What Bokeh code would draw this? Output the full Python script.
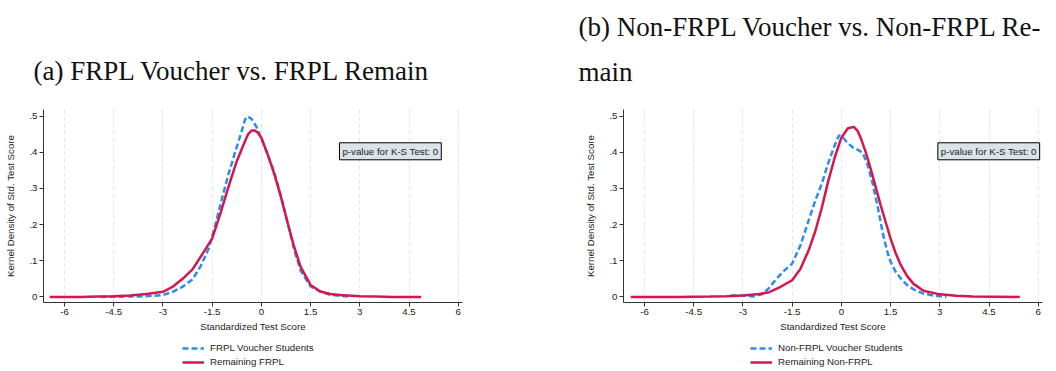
from bokeh.plotting import figure
from bokeh.models import (Range1d, FixedTicker, Label, Legend, LegendItem, CustomJSTickFormatter)
from bokeh.layouts import row, column
from bokeh.embed import file_html
from bokeh.resources import INLINE

# ---------------- data ----------------
x_ticks = [-6, -4.5, -3, -1.5, 0, 1.5, 3, 4.5, 6]
x_tick_labels = ["-6", "-4.5", "-3", "-1.5", "0", "1.5", "3", "4.5", "6"]
y_ticks = [0, 0.1, 0.2, 0.3, 0.4, 0.5]
y_tick_labels = ["0", ".1", ".2", ".3", ".4", ".5"]

# Panel (a)
a_remain_x = [-6.45, -5.5, -5.0, -4.5, -4.0, -3.5, -3.0, -2.7, -2.4, -2.1, -1.8, -1.5, -1.25, -1.0,
              -0.75, -0.5, -0.4, -0.3, -0.2, -0.1, 0.0, 0.2, 0.4, 0.6, 0.8, 1.0, 1.2, 1.5, 1.8, 2.1,
              2.4, 3.0, 3.5, 4.0, 4.87]
a_remain_y = [0.000, 0.000, 0.001, 0.002, 0.004, 0.008, 0.014, 0.028, 0.050, 0.076, 0.118, 0.161, 0.230,
              0.305, 0.375, 0.430, 0.450, 0.460, 0.460, 0.453, 0.440, 0.392, 0.338, 0.275, 0.205, 0.138,
              0.082, 0.033, 0.015, 0.008, 0.005, 0.002, 0.001, 0.000, 0.000]
a_voucher_x = [-4.9, -4.0, -3.5, -3.0, -2.7, -2.4, -2.1, -1.85, -1.6, -1.4, -1.2, -1.0, -0.8, -0.6,
               -0.5, -0.42, -0.3, -0.15, 0.0, 0.2, 0.4, 0.6, 0.8, 1.0, 1.2, 1.5, 1.8, 2.1, 2.4, 2.7]
a_voucher_y = [0.000, 0.001, 0.002, 0.005, 0.014, 0.028, 0.048, 0.085, 0.135, 0.200, 0.272, 0.340, 0.400,
               0.458, 0.490, 0.499, 0.492, 0.470, 0.437, 0.392, 0.342, 0.278, 0.205, 0.130, 0.072, 0.029,
               0.014, 0.006, 0.003, 0.001]

# Panel (b)
b_remain_x = [-6.42, -5.0, -4.0, -3.5, -3.0, -2.5, -2.2, -1.85, -1.5, -1.25, -1.0, -0.8, -0.6, -0.4,
              -0.2, 0.0, 0.2, 0.38, 0.5, 0.6, 0.75, 0.9, 1.05, 1.2, 1.35, 1.5, 1.65, 1.8, 2.0, 2.2, 2.5,
              3.0, 3.5, 4.0, 5.44]
b_remain_y = [0.000, 0.000, 0.001, 0.002, 0.004, 0.008, 0.013, 0.028, 0.046, 0.077, 0.128, 0.180, 0.245,
              0.320, 0.386, 0.440, 0.466, 0.470, 0.458, 0.437, 0.398, 0.352, 0.302, 0.253, 0.207, 0.161,
              0.122, 0.090, 0.058, 0.036, 0.017, 0.007, 0.003, 0.001, 0.000]
b_voucher_x = [-3.37, -3.0, -2.7, -2.4, -2.2, -2.0, -1.75, -1.5, -1.25, -1.0, -0.8, -0.6, -0.4, -0.2,
               -0.07, 0.05, 0.2, 0.35, 0.5, 0.65, 0.8, 0.95, 1.1, 1.2, 1.3, 1.4, 1.5, 1.65, 1.8, 2.0,
               2.2, 2.5, 2.8, 3.2]
b_voucher_y = [0.004, 0.004, 0.001, 0.008, 0.025, 0.048, 0.072, 0.092, 0.142, 0.210, 0.265, 0.312, 0.370,
               0.420, 0.447, 0.440, 0.425, 0.413, 0.407, 0.398, 0.365, 0.315, 0.253, 0.205, 0.161, 0.125,
               0.097, 0.070, 0.052, 0.033, 0.021, 0.009, 0.004, 0.000]

titles = ["(a) FRPL Voucher vs. FRPL Remain", "(b) Non-FRPL Voucher vs. Non-FRPL Re-", "main"]
legend_labels_a = ["FRPL Voucher Students", "Remaining FRPL"]
legend_labels_b = ["Non-FRPL Voucher Students", "Remaining Non-FRPL"]
ks_text = "p-value for K-S Test: 0"

BLUE = "#2b8cf0"
RED = "#d6164f"
SANS = "Liberation Sans"
SERIF = "Liberation Serif"
FS = "9.7px"
TOP_H = 109
MAIN_H = 232
LEG_H = 371 - TOP_H - MAIN_H


def label_formatter(tvals, tlabels):
    return CustomJSTickFormatter(args=dict(tvals=tvals, tlabels=tlabels), code="""
        for (let i = 0; i < tvals.length; i++) {
            if (Math.abs(tvals[i] - tick) < 1e-6) { return tlabels[i]; }
        }
        return "";
    """)


def blank_fig(h):
    t = figure(width=528, height=h, x_range=Range1d(0, 1), y_range=Range1d(0, 1),
               output_backend="svg", toolbar_location=None,
               x_axis_location=None, y_axis_location=None,
               min_border_left=0, min_border_right=0, min_border_top=0, min_border_bottom=0)
    t.outline_line_color = None
    t.xgrid.visible = False
    t.ygrid.visible = False
    return t


def title_fig(lines):
    t = blank_fig(TOP_H)
    for text, x, y in lines:
        t.add_layout(Label(x=x, y=y, x_units="screen", y_units="screen", text=text,
                           text_font=SERIF, text_font_size="27px", text_baseline="alphabetic",
                           text_align="left", text_color="#111111"))
    return t


def legend_fig(vx, vy, rx, ry, labels, lx):
    f = blank_fig(LEG_H)
    # legend proxies drawn from the same series (hidden), used only for the key
    rb = f.line(vx, vy, line_color=BLUE, line_width=2.5, line_dash="6 3", visible=False)
    rr = f.line(rx, ry, line_color=RED, line_width=2.5, visible=False)
    legend = Legend(items=[LegendItem(label=labels[0], renderers=[rb]),
                           LegendItem(label=labels[1], renderers=[rr])],
                    location=(lx, LEG_H - 26.7), orientation="vertical",
                    glyph_width=22, glyph_height=12, label_height=12, spacing=2,
                    padding=0, margin=0, label_standoff=6,
                    label_text_font=SANS, label_text_font_size=FS, label_text_color="#222222",
                    border_line_alpha=0, background_fill_alpha=0,
                    inactive_fill_alpha=0)
    f.add_layout(legend)
    return f


def make_panel(vx, vy, rx, ry, left_border, right_border, ks_x):
    p = figure(width=528, height=MAIN_H, x_range=Range1d(-6.64, 6.13),
               y_range=Range1d(-0.0155, 0.518),
               output_backend="svg", toolbar_location=None,
               min_border_left=left_border, min_border_right=right_border,
               min_border_top=0, min_border_bottom=39)
    p.outline_line_color = None
    p.background_fill_color = "white"
    p.border_fill_color = "white"

    p.xgrid.ticker = FixedTicker(ticks=x_ticks)
    p.xgrid.grid_line_color = "#e4e4e4"
    p.xgrid.grid_line_dash = "4 3"
    p.xgrid.grid_line_width = 1
    p.ygrid.visible = False

    for ax in (p.xaxis[0], p.yaxis[0]):
        ax.axis_line_color = "#333333"
        ax.major_tick_line_color = "#333333"
        ax.major_tick_out = 4
        ax.major_tick_in = 0
        ax.minor_tick_line_color = None
        ax.major_label_text_font = SANS
        ax.major_label_text_font_size = FS
        ax.major_label_text_color = "#222222"
        ax.axis_label_text_font = SANS
        ax.axis_label_text_font_size = FS
        ax.axis_label_text_font_style = "normal"
        ax.axis_label_text_color = "#222222"

    p.xaxis.ticker = FixedTicker(ticks=x_ticks)
    p.xaxis.formatter = label_formatter(x_ticks, x_tick_labels)
    p.xaxis.axis_label = "Standardized Test Score"
    p.xaxis.major_label_standoff = 2
    p.xaxis.axis_label_standoff = 3

    p.yaxis.ticker = FixedTicker(ticks=y_ticks)
    p.yaxis.formatter = label_formatter(y_ticks, y_tick_labels)
    p.yaxis.axis_label = "Kernel Density of Std. Test Score"
    p.yaxis.major_label_standoff = 2
    p.yaxis.axis_label_standoff = 10

    p.line(vx, vy, line_color=BLUE, line_width=2.5, line_dash="6 3")
    p.line(rx, ry, line_color=RED, line_width=2.5)

    ks = Label(x=ks_x, y=0.4025, text=ks_text, text_baseline="middle", text_align="left",
               text_font=SANS, text_font_size=FS, text_color="#222222",
               background_fill_color="#dbe4e8", border_line_color="black", border_line_width=1,
               padding=3)
    p.add_layout(ks)
    return p


p1 = make_panel(a_voucher_x, a_voucher_y, a_remain_x, a_remain_y, 43, 66, 2.38)
p2 = make_panel(b_voucher_x, b_voucher_y, b_remain_x, b_remain_y, 95, 14, 2.94)

t1 = title_fig([(titles[0], 33, TOP_H - 70.7)])
t2 = title_fig([(titles[1], 50, TOP_H - 26.7), (titles[2], 50, TOP_H - 71.7)])

l1 = legend_fig(a_voucher_x, a_voucher_y, a_remain_x, a_remain_y, legend_labels_a, 182)
l2 = legend_fig(b_voucher_x, b_voucher_y, b_remain_x, b_remain_y, legend_labels_b, 222)

layout = column(row(t1, t2), row(p1, p2), row(l1, l2))
open("out.html", "w").write(file_html(layout, INLINE))
